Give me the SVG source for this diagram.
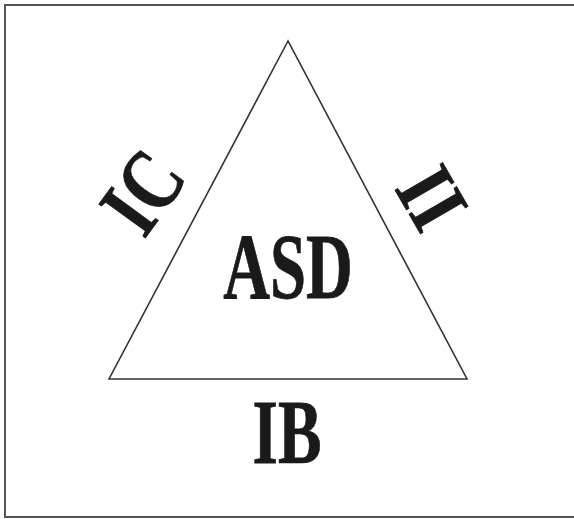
<svg xmlns="http://www.w3.org/2000/svg" width="574" height="519" viewBox="0 0 574 519">
<style>
.lbl{font-family:"Liberation Serif","Times New Roman",serif;font-weight:bold;fill:#1a1a1a;stroke:#1a1a1a;stroke-width:0.8;text-anchor:middle}
</style>
<rect x="0" y="0" width="574" height="519" fill="#fff"/>
<rect id="frame" x="5" y="5" width="572" height="512" fill="none" stroke="#555" stroke-width="2"/>
<g id="triangle">
<polygon points="288,41 109,379 467,379" fill="none" stroke="#333" stroke-width="1.6"/>
</g>
<g id="asd"><text class="lbl" font-size="94" transform="translate(288,298) scale(0.69,1)">ASD</text></g>
<g id="ib"><text class="lbl" font-size="92" transform="translate(287,463) scale(0.71,1)">IB</text></g>
<g id="ic"><text class="lbl" font-size="88" transform="translate(143,192) rotate(-54) scale(0.78,1)" y="29">IC</text></g>
<g id="ii"><text class="lbl" font-size="84" transform="translate(432,198) rotate(60) scale(0.85,1)" y="28">II</text></g>
</svg>
